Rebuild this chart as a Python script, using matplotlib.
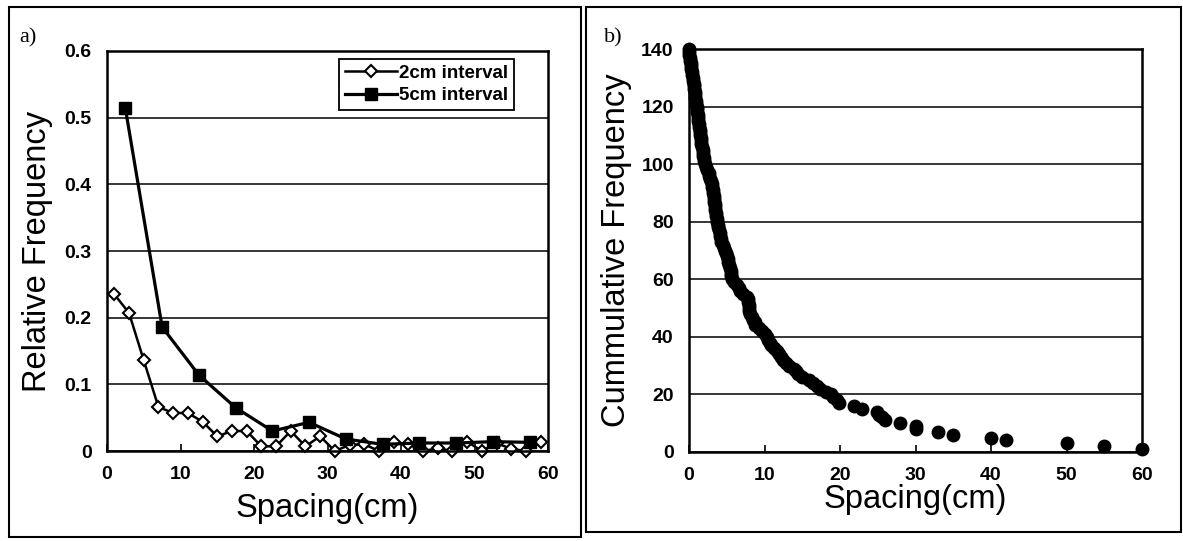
import numpy as np
import matplotlib
matplotlib.use('Agg')
import matplotlib.pyplot as plt
from matplotlib.patches import Rectangle

plt.rcParams['font.family'] = ['Liberation Sans', 'DejaVu Sans']

# ---- a) relative frequency of spacing ----
x_2cm = [1, 3, 5, 7, 9, 11, 13, 15, 17, 19, 21, 23, 25, 27, 29,
         31, 33, 35, 37, 39, 41, 43, 45, 47, 49, 51, 53, 55, 57, 59]
rf_2cm = [0.235, 0.207, 0.136, 0.066, 0.057, 0.057, 0.044, 0.022, 0.030, 0.030,
          0.007, 0.007, 0.030, 0.007, 0.022, 0.0, 0.009, 0.010, 0.0, 0.013,
          0.010, 0.0, 0.004, 0.0, 0.014, 0.0, 0.012, 0.003, 0.0, 0.014]
x_5cm = [2.5, 7.5, 12.5, 17.5, 22.5, 27.5, 32.5, 37.5, 42.5, 47.5, 52.5, 57.5]
rf_5cm = [0.514, 0.186, 0.114, 0.065, 0.030, 0.043, 0.018, 0.010, 0.012, 0.012, 0.014, 0.013]

xticks = [0, 10, 20, 30, 40, 50, 60]
yticks_a = [0, 0.1, 0.2, 0.3, 0.4, 0.5, 0.6]
yticklabels_a = ['0', '0.1', '0.2', '0.3', '0.4', '0.5', '0.6']

# ---- b) cumulative frequency: measured spacings (cm), sorted ----
spacing_b = [0, 0, 0.05, 0.1, 0.15, 0.2, 0.25, 0.3, 0.4, 0.45,
             0.5, 0.55, 0.6, 0.65, 0.7, 0.75, 0.8, 0.85, 0.9, 0.95,
             1.0, 1.05, 1.1, 1.15, 1.2, 1.25, 1.3, 1.35, 1.4, 1.45,
             1.5, 1.55, 1.6, 1.65, 1.7, 1.8, 1.85, 1.9, 2.0, 2.05,
             2.1, 2.3, 2.4, 2.6, 2.7, 2.8,
             2.9, 3.0, 3.1, 3.15,
             3.2, 3.25, 3.3, 3.35, 3.4, 3.45, 3.5, 3.55, 3.6, 3.65,
             3.7, 3.8, 3.9, 4.0, 4.1, 4.15, 4.2,
             4.3, 4.45, 4.6, 4.75, 4.9,
             5.0, 5.1, 5.2, 5.3, 5.4, 5.5, 5.55, 5.6,
             5.7, 6.0, 6.3, 6.6,
             6.8, 7.2,
             7.7, 7.75, 7.8, 7.9, 7.95, 8.0,
             8.1, 8.3, 8.5, 8.7,
             8.8, 9.3, 9.7,
             10.1, 10.3, 10.5, 10.7,
             10.9, 11.3, 11.6,
             11.9, 12.2, 12.5,
             12.8, 13.3,
             13.9, 14.2, 14.5,
             15.0, 15.9,
             16.4, 16.9,
             17.3, 18.2, 18.8, 19.1, 19.6, 19.9,
             21.9, 22.9, 24.9, 25.1, 25.5, 26.0, 28.0, 30.0, 30.1,
             33.0, 35.0, 40.0, 42.0, 50.0, 55.0, 60.0]
# number of spacings >= each value (rank from the top)
cum_freq = np.arange(len(spacing_b), 0, -1)
yticks_b = [0, 20, 40, 60, 80, 100, 120, 140]

W, H = 1183, 541
fig = plt.figure(figsize=(W / 100, H / 100), dpi=100)


def px_box(x0, y0, x1, y1):
    return [x0 / W, 1 - y1 / H, (x1 - x0) / W, (y1 - y0) / H]


# panel frames
for (x0, y0, x1, y1) in [(9, 7, 581, 537), (586, 7, 1181, 532)]:
    fig.patches.append(Rectangle((x0 / W, 1 - y1 / H), (x1 - x0) / W, (y1 - y0) / H,
                                 transform=fig.transFigure, fill=False, lw=1.5, ec='black'))

ax1 = fig.add_axes(px_box(107, 51, 548, 451))
ax2 = fig.add_axes(px_box(689, 49, 1142, 452))

for ax in (ax1, ax2):
    for s in ax.spines.values():
        s.set_linewidth(1.8)
        s.set_color('black')
    ax.set_axisbelow(True)
    ax.yaxis.grid(True, color='black', lw=1.1)
    ax.tick_params(axis='x', direction='in', length=5, width=1.2, labelsize=14, pad=11)
    ax.tick_params(axis='y', length=0, labelsize=14, pad=11)

# a)
ax1.plot(x_2cm, rf_2cm, '-', color='black', lw=1.8, marker='D', ms=6,
         mfc='white', mec='black', mew=1.5, label='2cm interval', clip_on=False)
ax1.plot(x_5cm, rf_5cm, '-', color='black', lw=2.3, marker='s', ms=8.5,
         label='5cm interval', clip_on=False)
ax1.set_xlim(0, 60)
ax1.set_ylim(0, 0.6)
ax1.set_xticks(xticks)
ax1.set_yticks(yticks_a)
ax1.set_yticklabels(yticklabels_a, fontweight='bold')
ax1.set_xticklabels([str(t) for t in xticks], fontweight='bold')
ax1.set_xlabel('Spacing(cm)', fontsize=23.5)
ax1.set_ylabel('Relative Frequency', fontsize=23.5)
ax1.xaxis.set_label_coords(0.5, -0.145)
ax1.xaxis.label.set_va('center')
ax1.yaxis.set_label_coords(-0.157, 0.5)
ax1.yaxis.label.set_va('center')
leg = ax1.legend(loc='upper right', bbox_to_anchor=(0.923, 0.98),
                 prop={'size': 13.5, 'weight': 'bold'},
                 handlelength=2.8, handletextpad=0.1, borderpad=0.3,
                 labelspacing=0.3, fancybox=False, framealpha=1, borderaxespad=0)
leg.get_frame().set_edgecolor('black')
leg.get_frame().set_linewidth(1.3)

# b)
ax2.plot(spacing_b, cum_freq, 'o', color='black', ms=9, clip_on=False)
ax2.set_xlim(0, 60)
ax2.set_ylim(0, 140)
ax2.set_xticks(xticks)
ax2.set_yticks(yticks_b)
ax2.set_xticklabels([str(t) for t in xticks], fontweight='bold')
ax2.set_yticklabels([str(t) for t in yticks_b], fontweight='bold')
ax2.set_xlabel('Spacing(cm)', fontsize=23.5)
ax2.set_ylabel('Cummulative Frequency', fontsize=23.5)
ax2.xaxis.set_label_coords(0.5, -0.119)
ax2.xaxis.label.set_va('center')
ax2.yaxis.set_label_coords(-0.161, 0.5)
ax2.yaxis.label.set_va('center')

fig.text(28 / W, 1 - 38 / H, 'a)', family='Liberation Serif', fontsize=16, ha='center', va='center')
fig.text(613 / W, 1 - 38 / H, 'b)', family='Liberation Serif', fontsize=16, ha='center', va='center')

fig.savefig('out.png', dpi=100)
